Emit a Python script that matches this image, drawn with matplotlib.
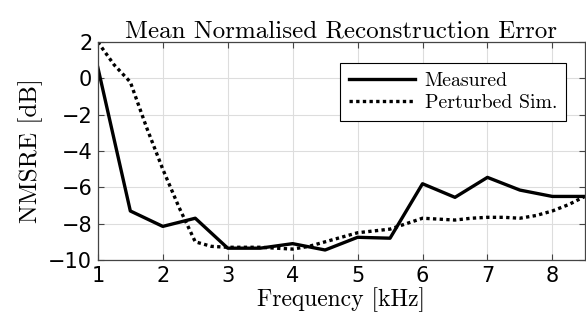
import numpy as np
import matplotlib.pyplot as plt

freq = np.arange(1.0, 8.51, 0.5)
measured = [0.6, -7.3, -8.15, -7.7, -9.35, -9.35, -9.1, -9.45,
            -8.75, -8.8, -5.8, -6.55, -5.45, -6.15, -6.5, -6.5]

freq_sim = np.arange(1.0, 8.51, 0.25)
perturbed = [2.0, 0.75, -0.2, -2.7, -5.0, -7.1, -9.0, -9.25,
             -9.3, -9.3, -9.3, -9.35, -9.4, -9.25, -9.0, -8.75,
             -8.5, -8.4, -8.3, -8.0, -7.7, -7.75, -7.8, -7.7,
             -7.65, -7.65, -7.7, -7.55, -7.3, -6.95, -6.5]

serif = 'cmr10'

fig = plt.figure(figsize=(5.86, 3.19), dpi=100)
ax = fig.add_axes([0.167, 0.185, 0.831, 0.683])

ax.plot(freq, measured, color='black', lw=2.4, label='Measured')
ax.plot(freq_sim, perturbed, color='black', lw=2.4, ls=(0, (1, 1)), label='Perturbed Sim.')

ax.set_xlim(1, 8.5)
ax.set_ylim(-10, 2)
ax.set_xticks(range(1, 9))
ax.set_yticks(range(-10, 3, 2))
ax.tick_params(labelsize=15, direction='in', top=True, right=True, length=4, pad=4,
               color='#444444')
ax.grid(True, color='#dddddd', lw=0.8)
for s in ax.spines.values():
    s.set_linewidth(0.9)
    s.set_color('#444444')

ax.set_title('Mean Normalised Reconstruction Error', fontfamily=serif, fontsize=18, pad=3)
ax.set_xlabel('Frequency [kHz]', fontfamily=serif, fontsize=17, labelpad=1)
ax.set_ylabel('NMSRE [dB]', fontfamily=serif, fontsize=18, labelpad=4)

leg = ax.legend(loc='upper right', bbox_to_anchor=(0.961, 0.904), borderaxespad=0,
                prop={'family': serif, 'size': 14.3},
                fancybox=False, edgecolor='black', framealpha=1, handlelength=3.3,
                borderpad=0.45, labelspacing=0.2, handletextpad=0.5)
leg.get_frame().set_linewidth(0.8)

fig.savefig('out.png', dpi=100)
